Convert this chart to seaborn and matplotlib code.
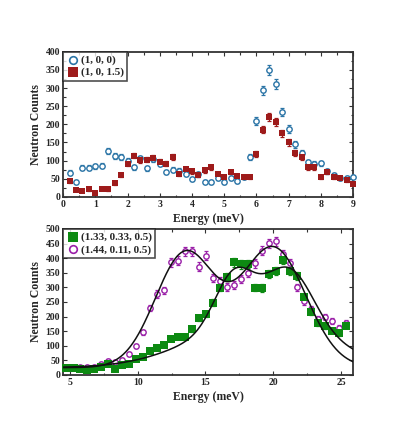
import numpy as np
import pandas as pd
import matplotlib
matplotlib.use('Agg')
import matplotlib.pyplot as plt
import seaborn as sns
from matplotlib.ticker import MultipleLocator

# === data ===

# top panel: energy grid (meV)
energy_top = [0.2, 0.4, 0.6, 0.8, 1.0, 1.2, 1.4, 1.6, 1.8, 2.0,
              2.2, 2.4, 2.6, 2.8, 3.0, 3.2, 3.4, 3.6, 3.8, 4.0,
              4.2, 4.4, 4.6, 4.8, 5.0, 5.2, 5.4, 5.6, 5.8, 6.0,
              6.2, 6.4, 6.6, 6.8, 7.0, 7.2, 7.4, 7.6, 7.8, 8.0,
              8.2, 8.4, 8.6, 8.8, 9.0]
counts_100 = [67, 41, 80, 80, 84, 86, 126, 113, 110, 100,
              82, 106, 79, 105, 92, 69, 75, 72, 63, 50,
              62, 42, 41, 51, 40, 52, 44, 55, 110, 210,
              294, 349, 312, 234, 187, 145, 120, 95, 92, 93,
              70, 59, 53, 53, 55]
counts_1015 = [43, 19, 15, 21, 11, 23, 21, 38, 60, 92,
               114, 101, 103, 107, 97, 92, 110, 64, 76, 70,
               60, 73, 81, 63, 55, 69, 57, 54, 54, 118,
               185, 219, 206, 175, 150, 120, 109, 81, 81, 56,
               69, 54, 53, 47, 36]

# bottom panel: energy grid (meV)
energy_bot = [4.75, 5.27, 5.78, 6.30, 6.81, 7.33, 7.85, 8.36, 8.88, 9.39,
              9.91, 10.43, 10.94, 11.46, 11.97, 12.49, 13.01, 13.52, 14.04, 14.55,
              15.07, 15.59, 16.10, 16.62, 17.13, 17.65, 18.17, 18.68, 19.20, 19.71,
              20.23, 20.75, 21.26, 21.78, 22.29, 22.81, 23.33, 23.84, 24.36, 24.87,
              25.39]
counts_green = [23, 23, 21, 18, 19, 26, 37, 22, 34, 39,
                54, 62, 82, 92, 103, 123, 130, 129, 156, 194,
                208, 248, 299, 337, 386, 379, 380, 299, 297, 345,
                355, 394, 356, 338, 266, 217, 177, 167, 152, 143,
                169]
counts_purple = [24, 28, 26, 26, 26, 38, 49, 46, 51, 72,
                 99, 146, 229, 277, 290, 386, 392, 424, 424, 371,
                 408, 331, 322, 302, 308, 329, 348, 382, 425, 451,
                 458, 413, 382, 300, 253, 226, 193, 197, 185, 160,
                 177]

# fit models: background + gaussian peaks (amplitude, centre, width)
fit_bg = 25
green_amp = [175, 195, 160]
green_cen = [17.1, 21.2, 19.0]
green_wid = [1.4, 1.8, 4.8]
purple_amp = [390, 410]
purple_cen = [13.5, 20.0]
purple_wid = [2.2, 2.4]

labels_top = ['(1, 0, 0)', '(1, 0, 1.5)']
labels_bot = ['(1.33, 0.33, 0.5)', '(1.44, 0.11, 0.5)']

blue = '#2a74a6'
red = '#9e1b1b'
green = '#0d8a12'
purple = '#9a1fa8'

# === style ===
sns.set_theme(style='ticks')
plt.rcParams['font.family'] = ['Liberation Serif', 'DejaVu Serif']
plt.rcParams['font.weight'] = 'bold'
plt.rcParams['axes.labelweight'] = 'bold'
plt.rcParams['xtick.direction'] = 'in'
plt.rcParams['ytick.direction'] = 'in'

fig = plt.figure(figsize=(4.15, 4.28), dpi=100)
ax1 = fig.add_axes([0.152, 0.540, 0.699, 0.339])
ax2 = fig.add_axes([0.152, 0.124, 0.699, 0.341])


def gauss_sum(x, amps, cens, wids):
    y = np.full_like(x, fit_bg, dtype=float)
    for a, c, w in zip(amps, cens, wids):
        y = y + a * np.exp(-(x - c) ** 2 / (2 * w ** 2))
    return y


def style_axes(ax):
    for sp in ax.spines.values():
        sp.set_color('#333333')
        sp.set_linewidth(1.3)
    ax.tick_params(which='both', top=True, right=True, labelsize=7,
                   width=0.8, color='#333333', pad=2)
    ax.tick_params(which='major', length=3)
    ax.tick_params(which='minor', length=1.8)
    for lab in ax.get_xticklabels() + ax.get_yticklabels():
        lab.set_fontweight('bold')
    ax.set_xlabel('Energy (meV)', fontsize=8.5, labelpad=3)
    ax.set_ylabel('Neutron Counts', fontsize=8.5, labelpad=3)


def open_pts(ax, x, y, col):
    sns.scatterplot(x=x, y=y, marker='o', s=15, facecolor='white',
                    edgecolor=col, linewidth=1.0, ax=ax, zorder=4, clip_on=False)


def full_pts(ax, x, y, col, size):
    sns.scatterplot(x=x, y=y, marker='s', s=size, color=col,
                    linewidth=0, ax=ax, zorder=5, clip_on=False)


def err(ax, x, y, col):
    ax.errorbar(x, y, yerr=np.sqrt(y) * 0.75, fmt='none', ecolor=col,
                elinewidth=0.9, capsize=1.5, capthick=0.9, zorder=2)


def legend_box(ax, handles, labels):
    leg = ax.legend(handles, labels, loc='upper left', fontsize=8,
                    frameon=True, fancybox=False, borderaxespad=0.0,
                    handletextpad=0.1, borderpad=0.3, labelspacing=0.2,
                    handlelength=1.2)
    leg.get_frame().set_edgecolor('#222222')
    leg.get_frame().set_linewidth(1.2)


# === top panel ===
err(ax1, energy_top, counts_100, blue)
err(ax1, energy_top, counts_1015, red)
open_pts(ax1, energy_top, counts_100, blue)
full_pts(ax1, energy_top, counts_1015, red, 22)

ax1.set_xlim(0, 9)
ax1.set_ylim(0, 400)
ax1.xaxis.set_major_locator(MultipleLocator(1))
ax1.xaxis.set_minor_locator(MultipleLocator(0.5))
ax1.yaxis.set_major_locator(MultipleLocator(50))
ax1.yaxis.set_minor_locator(MultipleLocator(25))
style_axes(ax1)

h1 = ax1.scatter([], [], s=30, marker='o', facecolors='white', edgecolors=blue, linewidths=1.2)
h2 = ax1.scatter([], [], s=55, marker='s', color=red, linewidths=0)
legend_box(ax1, [h1, h2], labels_top)

# === bottom panel ===
x_fit = np.linspace(4.5, 25.9, 400)
df_fit = pd.DataFrame({'energy': np.concatenate([x_fit, x_fit]),
                       'counts': np.concatenate([gauss_sum(x_fit, green_amp, green_cen, green_wid),
                                                 gauss_sum(x_fit, purple_amp, purple_cen, purple_wid)]),
                       'q': [labels_bot[0]] * len(x_fit) + [labels_bot[1]] * len(x_fit)})

err(ax2, energy_bot, counts_purple, purple)
err(ax2, energy_bot, counts_green, green)
full_pts(ax2, energy_bot, counts_green, green, 28)
open_pts(ax2, energy_bot, counts_purple, purple)
sns.lineplot(data=df_fit, x='energy', y='counts', units='q', estimator=None,
             color='#111111', linewidth=1.1, ax=ax2, zorder=6, legend=False)

ax2.set_xlim(4.5, 25.9)
ax2.set_ylim(0, 500)
ax2.xaxis.set_major_locator(MultipleLocator(5))
ax2.xaxis.set_minor_locator(MultipleLocator(2.5))
ax2.yaxis.set_major_locator(MultipleLocator(50))
style_axes(ax2)

g1 = ax2.scatter([], [], s=55, marker='s', color=green, linewidths=0)
g2 = ax2.scatter([], [], s=30, marker='o', facecolors='white', edgecolors=purple, linewidths=1.2)
legend_box(ax2, [g1, g2], labels_bot)

fig.savefig('out.png', dpi=100)
